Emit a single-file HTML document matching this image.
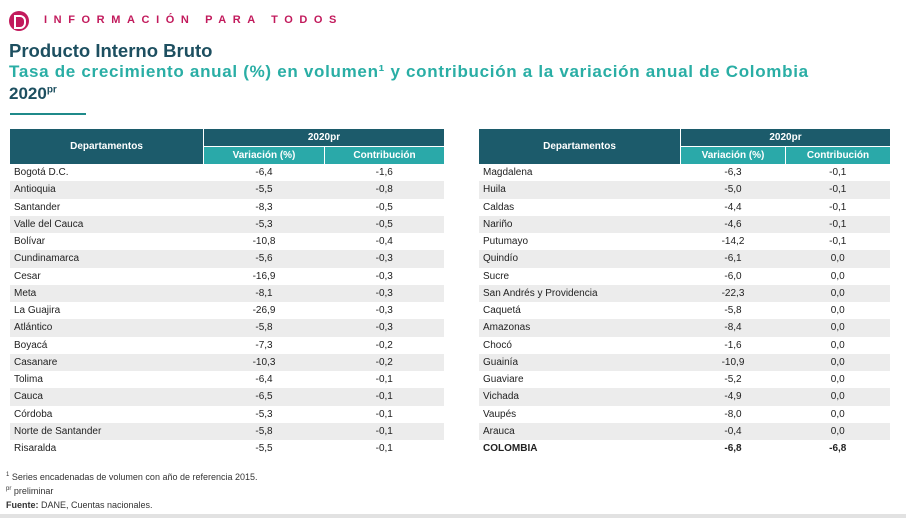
<!DOCTYPE html>
<html><head><meta charset="utf-8"><style>
body{margin:0;width:906px;height:518px;background:#fff;font-family:"Liberation Sans",sans-serif;position:relative;overflow:hidden}
.abs{position:absolute}
table{position:absolute;border-collapse:collapse;font-size:10px;color:#222}
td,th{padding:0;height:17.25px;line-height:17px}
th{color:#fff;font-weight:bold;font-size:10px}
.h1{background:#1c5b6b;height:17px}
.h2{background:#2aa9a9;height:17px}
tr.g td{background:#ececec}
td.n{padding-left:4px}
td.c{text-align:center}
</style></head><body>
<div class="abs" style="left:9px;top:11px;width:20px;height:20px;border-radius:50%;background:#c21a5c"></div>
<div class="abs" style="left:14px;top:15px;width:8px;height:10px;border:2px solid #fff;border-radius:0 6px 6px 0;border-left-width:2px"></div>
<div class="abs" style="left:44px;top:14px;font-size:11px;font-weight:bold;letter-spacing:6.6px;color:#c21a5c">INFORMACIÓN PARA TODOS</div>
<div class="abs" style="left:9px;top:40px;font-size:18.5px;font-weight:bold;color:#1d4f60">Producto Interno Bruto</div>
<div class="abs" style="left:9px;top:62px;font-size:17px;font-weight:bold;color:#2aaea5;letter-spacing:0.7px">Tasa de crecimiento anual (%) en volumen¹ y contribución a la variación anual de Colombia</div>
<div class="abs" style="left:9px;top:84px;font-size:17px;font-weight:bold;color:#1d4f60">2020<sup style="font-size:10px">pr</sup></div>
<div class="abs" style="left:10px;top:113px;width:76px;height:2px;background:#1f8a8a"></div>

<table style="left:10px;top:129px;width:434px">
<tr><th class="h1" rowspan="2" style="width:193px;border-right:1px solid #fff">Departamentos</th><th class="h1" colspan="2">2020pr</th></tr>
<tr><th class="h2" style="width:120px;border-right:1px solid #fff;border-top:1px solid #fff">Variación (%)</th><th class="h2" style="border-top:1px solid #fff">Contribución</th></tr>
<tr><td class="n">Bogotá D.C.</td><td class="c">-6,4</td><td class="c">-1,6</td></tr>
<tr class="g"><td class="n">Antioquia</td><td class="c">-5,5</td><td class="c">-0,8</td></tr>
<tr><td class="n">Santander</td><td class="c">-8,3</td><td class="c">-0,5</td></tr>
<tr class="g"><td class="n">Valle del Cauca</td><td class="c">-5,3</td><td class="c">-0,5</td></tr>
<tr><td class="n">Bolívar</td><td class="c">-10,8</td><td class="c">-0,4</td></tr>
<tr class="g"><td class="n">Cundinamarca</td><td class="c">-5,6</td><td class="c">-0,3</td></tr>
<tr><td class="n">Cesar</td><td class="c">-16,9</td><td class="c">-0,3</td></tr>
<tr class="g"><td class="n">Meta</td><td class="c">-8,1</td><td class="c">-0,3</td></tr>
<tr><td class="n">La Guajira</td><td class="c">-26,9</td><td class="c">-0,3</td></tr>
<tr class="g"><td class="n">Atlántico</td><td class="c">-5,8</td><td class="c">-0,3</td></tr>
<tr><td class="n">Boyacá</td><td class="c">-7,3</td><td class="c">-0,2</td></tr>
<tr class="g"><td class="n">Casanare</td><td class="c">-10,3</td><td class="c">-0,2</td></tr>
<tr><td class="n">Tolima</td><td class="c">-6,4</td><td class="c">-0,1</td></tr>
<tr class="g"><td class="n">Cauca</td><td class="c">-6,5</td><td class="c">-0,1</td></tr>
<tr><td class="n">Córdoba</td><td class="c">-5,3</td><td class="c">-0,1</td></tr>
<tr class="g"><td class="n">Norte de Santander</td><td class="c">-5,8</td><td class="c">-0,1</td></tr>
<tr><td class="n">Risaralda</td><td class="c">-5,5</td><td class="c">-0,1</td></tr>
</table>

<table style="left:479px;top:129px;width:411px">
<tr><th class="h1" rowspan="2" style="width:201px;border-right:1px solid #fff">Departamentos</th><th class="h1" colspan="2">2020pr</th></tr>
<tr><th class="h2" style="width:104px;border-right:1px solid #fff;border-top:1px solid #fff">Variación (%)</th><th class="h2" style="border-top:1px solid #fff">Contribución</th></tr>
<tr><td class="n">Magdalena</td><td class="c">-6,3</td><td class="c">-0,1</td></tr>
<tr class="g"><td class="n">Huila</td><td class="c">-5,0</td><td class="c">-0,1</td></tr>
<tr><td class="n">Caldas</td><td class="c">-4,4</td><td class="c">-0,1</td></tr>
<tr class="g"><td class="n">Nariño</td><td class="c">-4,6</td><td class="c">-0,1</td></tr>
<tr><td class="n">Putumayo</td><td class="c">-14,2</td><td class="c">-0,1</td></tr>
<tr class="g"><td class="n">Quindío</td><td class="c">-6,1</td><td class="c">0,0</td></tr>
<tr><td class="n">Sucre</td><td class="c">-6,0</td><td class="c">0,0</td></tr>
<tr class="g"><td class="n">San Andrés y Providencia</td><td class="c">-22,3</td><td class="c">0,0</td></tr>
<tr><td class="n">Caquetá</td><td class="c">-5,8</td><td class="c">0,0</td></tr>
<tr class="g"><td class="n">Amazonas</td><td class="c">-8,4</td><td class="c">0,0</td></tr>
<tr><td class="n">Chocó</td><td class="c">-1,6</td><td class="c">0,0</td></tr>
<tr class="g"><td class="n">Guainía</td><td class="c">-10,9</td><td class="c">0,0</td></tr>
<tr><td class="n">Guaviare</td><td class="c">-5,2</td><td class="c">0,0</td></tr>
<tr class="g"><td class="n">Vichada</td><td class="c">-4,9</td><td class="c">0,0</td></tr>
<tr><td class="n">Vaupés</td><td class="c">-8,0</td><td class="c">0,0</td></tr>
<tr class="g"><td class="n">Arauca</td><td class="c">-0,4</td><td class="c">0,0</td></tr>
<tr style="font-weight:bold"><td class="n">COLOMBIA</td><td class="c">-6,8</td><td class="c">-6,8</td></tr>
</table>

<div class="abs" style="left:6px;top:472px;font-size:9px;color:#333"><sup style="font-size:6px">1</sup> Series encadenadas de volumen con año de referencia 2015.</div>
<div class="abs" style="left:6px;top:486px;font-size:9px;color:#333"><sup style="font-size:6px">pr</sup> preliminar</div>
<div class="abs" style="left:6px;top:500px;font-size:9px;color:#333"><b>Fuente:</b> DANE, Cuentas nacionales.</div>
<div class="abs" style="left:0;top:514px;width:906px;height:4px;background:#e2e2e2"></div>
</body></html>
